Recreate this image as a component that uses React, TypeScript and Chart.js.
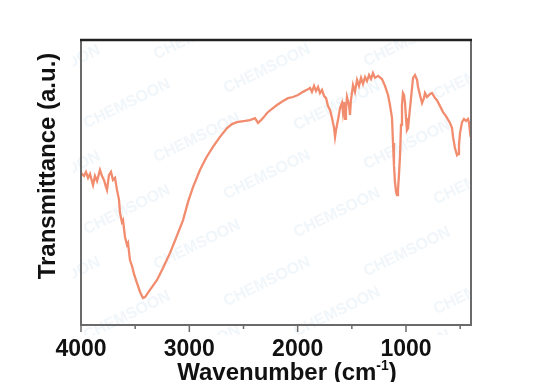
import React, { useEffect, useRef } from "react";
import { Chart, registerables } from "chart.js";

Chart.register(...registerables);

// Wavenumber (cm-1) and transmittance (relative, a.u.)
const wavenumbers = [
  4000, 3972, 3954, 3935, 3917, 3889, 3871, 3852, 3825, 3806, 3788, 3769, 3760, 3742, 3723, 3705, 3686, 3668,
  3649, 3640, 3622, 3612, 3594, 3575, 3566, 3548, 3529, 3511, 3483, 3455, 3428, 3409, 3363, 3298, 3243, 3178,
  3123, 3058, 3012, 2966, 2902, 2846, 2782, 2717, 2652, 2606, 2560, 2486, 2440, 2394, 2366, 2338, 2320, 2283,
  2237, 2191, 2135, 2089, 2043, 1997, 1951, 1914, 1886, 1868, 1849, 1831, 1812, 1794, 1775, 1757, 1738, 1720,
  1701, 1683, 1664, 1655, 1646, 1628, 1609, 1591, 1582, 1572, 1563, 1554, 1545, 1526, 1517, 1508, 1489, 1471,
  1452, 1434, 1415, 1397, 1378, 1360, 1341, 1323, 1305, 1286, 1258, 1222, 1194, 1166, 1148, 1129, 1120, 1111,
  1102, 1092, 1083, 1074, 1065, 1055, 1046, 1037, 1028, 1018, 1009, 1000, 991, 981, 972, 963, 944, 935, 917,
  898, 889, 871, 852, 834, 825, 806, 797, 778, 760, 732, 714, 686, 658, 631, 594, 575, 566, 548, 529, 520, 511,
  501, 483, 465, 446, 428, 418, 409, 400,
];
const transmittance = [
  53.3, 52.3, 53.7, 51.6, 53.0, 49.1, 52.3, 50.5, 54.4, 52.3, 50.9, 48.4, 47.4, 52.6, 53.7, 50.9, 51.6, 47.4,
  43.9, 39.3, 36.1, 36.8, 30.9, 28.1, 28.8, 22.8, 20.7, 17.9, 14.7, 11.6, 9.5, 9.8, 12.3, 15.8, 20.0, 25.3,
  30.5, 36.8, 43.2, 48.4, 54.4, 58.6, 62.5, 66.0, 69.1, 70.5, 71.2, 71.6, 71.9, 72.6, 70.9, 71.9, 72.6, 74.4,
  75.8, 77.2, 78.6, 79.6, 80.0, 80.7, 81.8, 82.5, 83.2, 81.8, 83.9, 82.1, 83.5, 81.4, 82.5, 80.4, 79.6, 76.8,
  75.4, 72.6, 69.1, 66.0, 68.4, 71.9, 76.1, 77.9, 74.7, 78.2, 72.3, 75.4, 80.0, 77.2, 73.7, 78.9, 84.2, 81.8,
  86.0, 83.9, 86.7, 84.6, 87.0, 85.6, 87.7, 86.3, 88.4, 86.7, 87.4, 86.3, 83.9, 80.7, 77.2, 72.6, 63.9, 56.1,
  50.2, 46.7, 45.6, 47.4, 52.6, 59.6, 70.2, 77.2, 81.4, 80.7, 77.9, 72.6, 68.4, 69.1, 72.6, 76.1, 83.2, 86.7, 87.7,
  86.0, 83.5, 80.7, 77.9, 79.6, 81.4, 80.0, 80.0, 81.1, 81.4, 79.6, 78.9, 76.8, 74.7, 73.3, 70.9, 69.1, 66.0, 62.1, 59.6, 60.0, 63.2,
  67.4, 71.2, 72.3, 71.6, 72.3, 70.9, 67.7, 68.8,
];

const majorTicks = [4000, 3000, 2000, 1000];
const minorTicks = [3500, 2500, 1500, 500];

const xTitleMain = "Wavenumber (cm";
const xTitleSup = "-1";
const xTitleEnd = ")";
const yTitle = "Transmittance (a.u.)";
const watermarkText = "CHEMSOON";
const watermarkSpots = [
  [57, 70], [57, 176], [57, 282],
  [127, 104], [127, 210], [127, 316],
  [197, 35], [197, 138], [197, 245], [197, 350],
  [267, 69], [267, 175], [267, 282],
  [337, 106], [337, 213], [337, 312],
  [407, 42], [407, 145], [407, 252], [407, 355],
  [477, 75], [477, 180], [477, 290],
];

const FONT = "'Liberation Sans', Arial, Helvetica, sans-serif";

const decorPlugin = {
  id: "decor",
  beforeDatasetsDraw(chart: any) {
    const { ctx, chartArea } = chart;
    ctx.save();
    ctx.beginPath();
    ctx.rect(chartArea.left - 8, chartArea.top, chartArea.right - chartArea.left + 8, chartArea.bottom - chartArea.top + 10);
    ctx.clip();
    ctx.fillStyle = "rgba(205,225,240,0.3)";
    ctx.font = `bold 16px ${FONT}`;
    ctx.textAlign = "center";
    ctx.textBaseline = "middle";
    for (const [x, y] of watermarkSpots) {
      ctx.save();
      ctx.translate(x, y);
      ctx.rotate((-26 * Math.PI) / 180);
      ctx.fillText(watermarkText, 0, 0);
      ctx.restore();
    }
    ctx.restore();
  },
  afterDraw(chart: any) {
    const { ctx, chartArea } = chart;
    const xs = chart.scales.x;
    const { left, right, top, bottom } = chartArea;
    ctx.save();
    // frame
    ctx.lineWidth = 2;
    ctx.strokeStyle = "#6a6a6a";
    ctx.beginPath();
    ctx.moveTo(left, top);
    ctx.lineTo(left, bottom);
    ctx.lineTo(right, bottom);
    ctx.lineTo(right, top);
    ctx.stroke();
    ctx.strokeStyle = "#222";
    ctx.lineWidth = 2.5;
    ctx.beginPath();
    ctx.moveTo(left - 1, top);
    ctx.lineTo(right + 1, top);
    ctx.stroke();
    // ticks
    ctx.strokeStyle = "#6a6a6a";
    ctx.lineWidth = 1.5;
    for (const v of majorTicks) {
      const px = xs.getPixelForValue(v);
      ctx.beginPath();
      ctx.moveTo(px, bottom);
      ctx.lineTo(px, bottom + 7);
      ctx.stroke();
    }
    for (const v of minorTicks) {
      const px = xs.getPixelForValue(v);
      ctx.beginPath();
      ctx.moveTo(px, bottom);
      ctx.lineTo(px, bottom + 4);
      ctx.stroke();
    }
    // x title
    ctx.fillStyle = "#111";
    ctx.textBaseline = "alphabetic";
    ctx.font = `bold 24px ${FONT}`;
    const w1 = ctx.measureText(xTitleMain).width;
    const w3 = ctx.measureText(xTitleEnd).width;
    ctx.font = `bold 14px ${FONT}`;
    const w2 = ctx.measureText(xTitleSup).width;
    const total = w1 + w2 + w3;
    const cx = 287;
    const x0 = cx - total / 2;
    const base = 380;
    ctx.textAlign = "left";
    ctx.font = `bold 24px ${FONT}`;
    ctx.fillText(xTitleMain, x0, base);
    ctx.font = `bold 14px ${FONT}`;
    ctx.fillText(xTitleSup, x0 + w1, base - 10);
    ctx.font = `bold 24px ${FONT}`;
    ctx.fillText(xTitleEnd, x0 + w1 + w2, base);
    // y title
    ctx.save();
    ctx.translate(48, 166);
    ctx.rotate(-Math.PI / 2);
    ctx.textAlign = "center";
    ctx.textBaseline = "middle";
    ctx.font = `bold 24px ${FONT}`;
    ctx.fillText(yTitle, 0, 0);
    ctx.restore();
    ctx.restore();
  },
};

export default function App() {
  const canvasRef = useRef<HTMLCanvasElement | null>(null);

  useEffect(() => {
    const canvas = canvasRef.current;
    if (!canvas) return;
    const points = wavenumbers.map((w, i) => ({ x: w, y: transmittance[i] }));
    const chart = new Chart(canvas, {
      type: "line",
      data: {
        datasets: [
          {
            data: points,
            borderColor: "rgb(242,140,110)",
            borderWidth: 2.3,
            pointRadius: 0,
            tension: 0,
            fill: false,
          },
        ],
      },
      options: {
        responsive: false,
        animation: false,
        events: [],
        layout: { padding: { left: 81, top: 40, right: 76, bottom: 0 } },
        plugins: { legend: { display: false }, tooltip: { enabled: false }, title: { display: false } },
        scales: {
          x: {
            type: "linear",
            reverse: true,
            min: 400,
            max: 4000,
            grid: { display: false },
            border: { display: false },
            afterBuildTicks: (scale: any) => {
              scale.ticks = majorTicks.map((v) => ({ value: v }));
            },
            afterFit: (scale: any) => {
              scale.height = 57;
            },
            ticks: {
              autoSkip: false,
              maxRotation: 0,
              padding: 3,
              color: "#111",
              font: { family: FONT, size: 23, weight: "bold" },
              callback: (v: any) => String(v),
            },
          },
          y: {
            type: "linear",
            min: 0,
            max: 100,
            display: false,
          },
        },
      },
      plugins: [decorPlugin],
    });
    return () => chart.destroy();
  }, []);

  return (
    <div style={{ position: "fixed", left: 0, top: 0, width: 547, height: 382, background: "#fff" }}>
      <canvas ref={canvasRef} width={547} height={382} />
    </div>
  );
}
